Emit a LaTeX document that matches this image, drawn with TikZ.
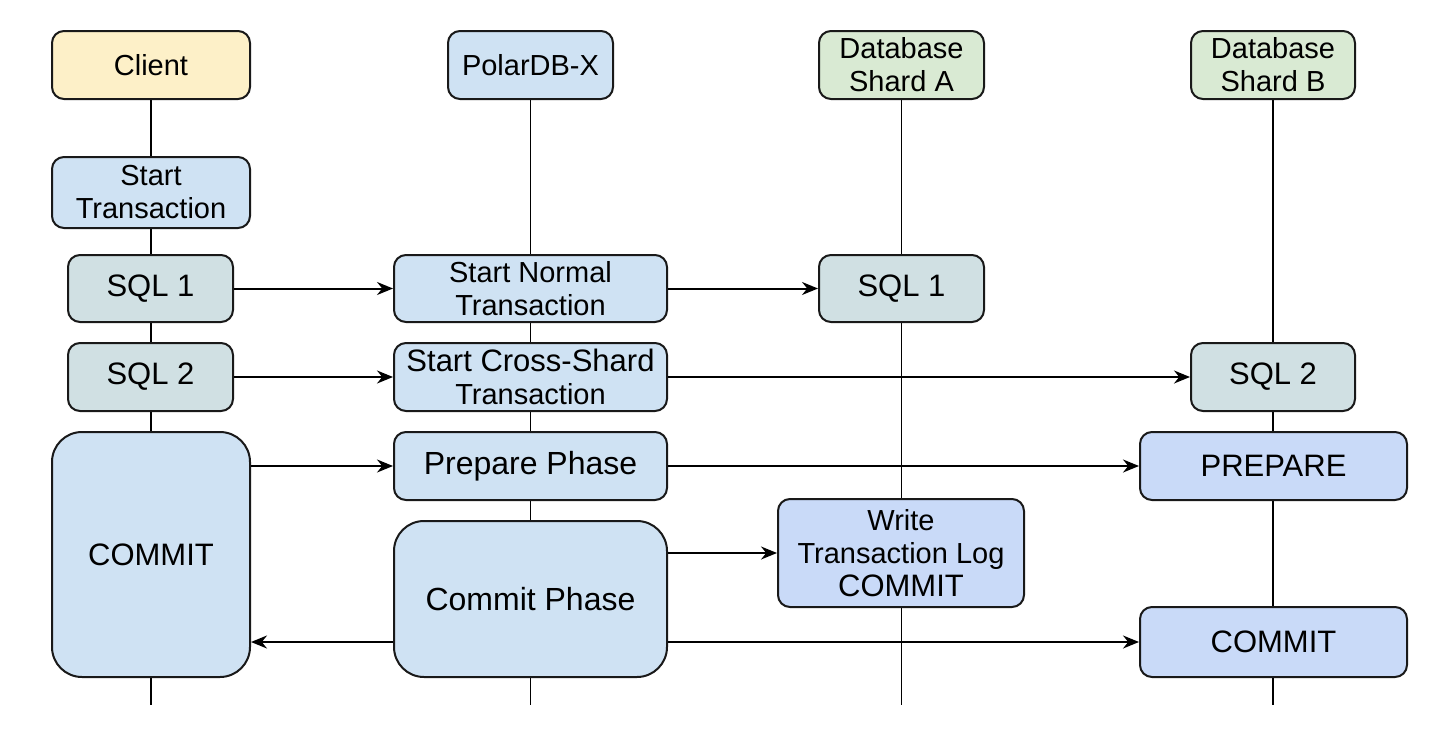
\documentclass[tikz,border=0pt]{standalone}
\usepackage{fontspec}
\setmainfont{Liberation Sans}
\usetikzlibrary{arrows.meta,backgrounds}
\definecolor{cyellow}{HTML}{FDF0C8}
\definecolor{cblue}{HTML}{CFE2F3}
\definecolor{cgreen}{HTML}{D9EAD3}
\definecolor{cteal}{HTML}{D0E0E3}
\definecolor{cdblue}{HTML}{C9DAF8}
\begin{document}
\begin{tikzpicture}[x=1pt,y=-1pt,
  box/.style={draw=black!90, line width=2pt, rounded corners=12pt, inner sep=0pt, align=center, font=\fontsize{29}{33}\selectfont},
  bigbox/.style={box, rounded corners=30pt},
  fsb/.style={font=\fontsize{31}{33}\selectfont},
  fsc/.style={font=\fontsize{32}{34}\selectfont},
  arr/.style={line width=2pt, -{Stealth[length=16pt,width=13pt]}},
  life/.style={line width=1.6pt}]
\useasboundingbox (0,0) rectangle (1456,736);
% headers
\node[box, fill=cyellow, minimum width=198pt, minimum height=68pt] (client) at (151,65) {Client};
\node[box, fill=cblue, minimum width=165pt, minimum height=68pt] (polar) at (530.5,65) {PolarDB-X};
\node[box, fill=cgreen, minimum width=165pt, minimum height=68pt] (shardA) at (901.5,65) {Database\\Shard A};
\node[box, fill=cgreen, minimum width=164pt, minimum height=68pt] (shardB) at (1273,65) {Database\\Shard B};
% client column
\node[box, fill=cblue, minimum width=198pt, minimum height=71pt] (startTx) at (151,192.5) {Start\\Transaction};
\node[box, fsb, fill=cteal, minimum width=165pt, minimum height=67pt] (sqlOneC) at (150.5,288.5) {SQL 1};
\node[box, fsb, fill=cteal, minimum width=165pt, minimum height=68pt] (sqlTwoC) at (150.5,377) {SQL 2};
\node[bigbox, fsb, fill=cblue, minimum width=198pt, minimum height=245pt] (commitC) at (151,554.5) {COMMIT};
% polardb column
\node[box, fill=cblue, minimum width=273pt, minimum height=67pt] (startNormal) at (530.5,288.5) {Start Normal\\Transaction};
\node[box, fill=cblue, minimum width=273pt, minimum height=68pt] (startCross) at (530.5,377) {{\fontsize{31}{33}\selectfont Start Cross-Shard}\\Transaction};
\node[box, fsc, fill=cblue, minimum width=273pt, minimum height=68pt] (prepPhase) at (530.5,466) {Prepare Phase};
\node[bigbox, fsc, fill=cblue, minimum width=273pt, minimum height=156pt] (commitPhase) at (530.5,599) {Commit Phase};
% shard A column
\node[box, fsb, fill=cteal, minimum width=165pt, minimum height=67pt] (sqlOneA) at (901.5,288.5) {SQL 1};
\node[box, fill=cdblue, minimum width=246pt, minimum height=108pt] (writeLog) at (901,553) {Write\\Transaction Log\\{\fontsize{31}{33}\selectfont COMMIT}};
% shard B column
\node[box, fsb, fill=cteal, minimum width=164pt, minimum height=68pt] (sqlTwoB) at (1273,377) {SQL 2};
\node[box, fsb, fill=cdblue, minimum width=267pt, minimum height=68pt] (prepareB) at (1273.5,466) {PREPARE};
\node[box, fsb, fill=cdblue, minimum width=267pt, minimum height=70pt] (commitB) at (1273.5,642) {COMMIT};
% lifeline ends
\coordinate (endC) at (151,705);
\coordinate (endP) at (530.5,705);
\coordinate (endA) at (901.5,705);
\coordinate (endB) at (1273,705);
\begin{pgfonlayer}{background}
\fill[white] (0,0) rectangle (1456,736);
\draw[life] (client.south) -- (endC);
\draw[life] (polar.south) -- (endP);
\draw[life] (shardA.south) -- (endA);
\draw[life] (shardB.south) -- (endB);
\end{pgfonlayer}
% messages
\draw[arr] (sqlOneC.east) -- (startNormal.west);
\draw[arr] (startNormal.east) -- (sqlOneA.west);
\draw[arr] (sqlTwoC.east) -- (startCross.west);
\draw[arr] (startCross.east) -- (sqlTwoB.west);
\draw[arr] (commitC.east |- prepPhase.west) -- (prepPhase.west);
\draw[arr] (prepPhase.east) -- (prepareB.west);
\draw[arr] (commitPhase.east |- writeLog.west) -- (writeLog.west);
\draw[arr] (commitPhase.west |- commitB.west) -- (commitC.east |- commitB.west);
\draw[arr] (commitPhase.east |- commitB.west) -- (commitB.west);
\end{tikzpicture}
\end{document}
